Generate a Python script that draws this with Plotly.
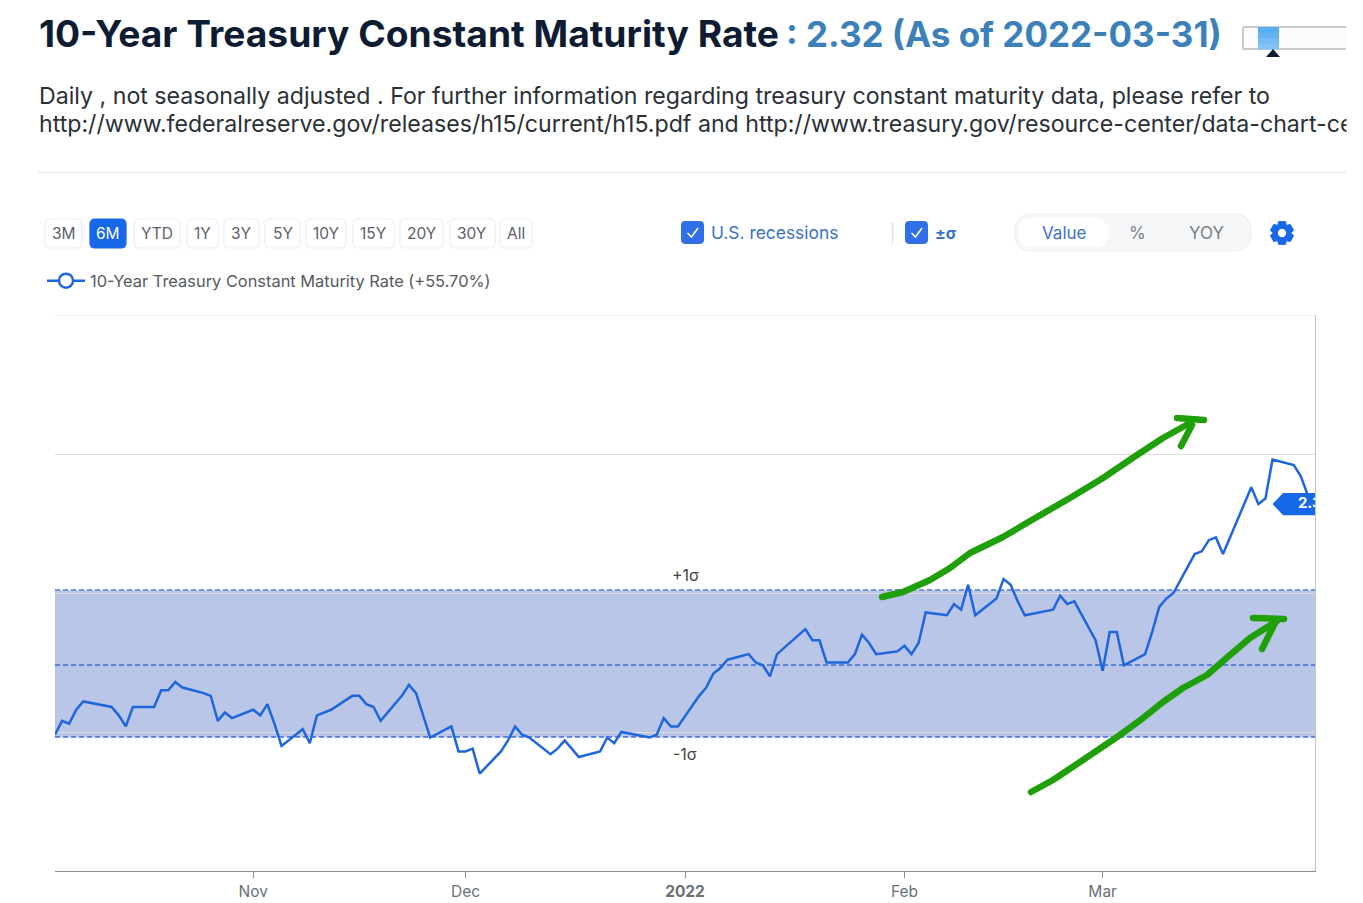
import math
import plotly.graph_objects as go

W, H = 1363, 903
dates = """2021-10-04 2021-10-05 2021-10-06 2021-10-07 2021-10-08 2021-10-12 2021-10-13 2021-10-14 2021-10-15
2021-10-18 2021-10-19 2021-10-20 2021-10-21 2021-10-22 2021-10-25 2021-10-26 2021-10-27 2021-10-28 2021-10-29
2021-11-01 2021-11-02 2021-11-03 2021-11-04 2021-11-05 2021-11-08 2021-11-09 2021-11-10 2021-11-12
2021-11-15 2021-11-16 2021-11-17 2021-11-18 2021-11-19 2021-11-22 2021-11-23 2021-11-24 2021-11-26
2021-11-29 2021-11-30 2021-12-01 2021-12-02 2021-12-03 2021-12-06 2021-12-07 2021-12-08 2021-12-09 2021-12-10
2021-12-13 2021-12-14 2021-12-15 2021-12-16 2021-12-17 2021-12-20 2021-12-21 2021-12-22 2021-12-23
2021-12-27 2021-12-28 2021-12-29 2021-12-30 2021-12-31 2022-01-03 2022-01-04 2022-01-05 2022-01-06 2022-01-07
2022-01-10 2022-01-11 2022-01-12 2022-01-13 2022-01-14 2022-01-18 2022-01-19 2022-01-20 2022-01-21
2022-01-24 2022-01-25 2022-01-26 2022-01-27 2022-01-28 2022-01-31 2022-02-01 2022-02-02 2022-02-03 2022-02-04
2022-02-07 2022-02-08 2022-02-09 2022-02-10 2022-02-11 2022-02-14 2022-02-15 2022-02-16 2022-02-17 2022-02-18
2022-02-22 2022-02-23 2022-02-24 2022-02-25 2022-02-28 2022-03-01 2022-03-02 2022-03-03 2022-03-04
2022-03-07 2022-03-08 2022-03-09 2022-03-10 2022-03-11 2022-03-14 2022-03-15 2022-03-16 2022-03-17 2022-03-18
2022-03-21 2022-03-22 2022-03-23 2022-03-24 2022-03-25 2022-03-28 2022-03-29 2022-03-30 2022-03-31""".split()
rates = [1.49, 1.54, 1.53, 1.58, 1.61, 1.59, 1.56, 1.52, 1.59,
         1.59, 1.65, 1.65, 1.68, 1.66, 1.64, 1.63, 1.54, 1.57, 1.55,
         1.58, 1.56, 1.60, 1.53, 1.45, 1.51, 1.46, 1.56, 1.58,
         1.63, 1.63, 1.60, 1.59, 1.54, 1.63, 1.67, 1.64, 1.48,
         1.52, 1.43, 1.43, 1.44, 1.35, 1.43, 1.47, 1.52, 1.49, 1.48,
         1.42, 1.44, 1.47, 1.44, 1.41, 1.43, 1.48, 1.46, 1.50,
         1.48, 1.49, 1.55, 1.52, 1.52, 1.63, 1.66, 1.71, 1.73, 1.76,
         1.78, 1.75, 1.74, 1.70, 1.78, 1.87, 1.83, 1.83, 1.75,
         1.75, 1.78, 1.85, 1.82, 1.78, 1.79, 1.81, 1.78, 1.82, 1.93,
         1.92, 1.96, 1.94, 2.03, 1.92, 1.98, 2.05, 2.03, 1.97, 1.92,
         1.94, 1.99, 1.96, 1.97, 1.83, 1.72, 1.86, 1.86, 1.74,
         1.78, 1.86, 1.95, 1.98, 2.00, 2.14, 2.15, 2.19, 2.20, 2.14,
         2.32, 2.38, 2.32, 2.34, 2.48, 2.46, 2.42, 2.35, 2.32]
plus_sigma, mean_rate, minus_sigma = 2.011, 1.741, 1.482
tick_dates = ["2021-11-01", "2021-12-01", "2022-01-01", "2022-02-01", "2022-03-01"]
tick_labels = ["Nov", "Dec", "<b>2022</b>", "Feb", "Mar"]
range_buttons = ["3M", "6M", "YTD", "1Y", "3Y", "5Y", "10Y", "15Y", "20Y", "30Y", "All"]
button_edges = [(45, 82), (90, 126), (134, 180), (187, 218), (224, 259), (265, 300),
                (306, 346), (353, 394), (400, 443), (450, 495), (500, 532)]

BLUE = "#1668e8"
LINE = "#1f66dc"
GREEN = "rgb(31,160,10)"
FONT = "Inter"
px = lambda x: x / W
py = lambda y: 1 - y / H


def path(points, close=False):
    s = "M" + " L".join(f"{px(x):.5f},{py(y):.5f}" for x, y in points)
    return s + (" Z" if close else "")


def rrect(x0, y0, x1, y1, r):
    pts = [(x0 + r, y0), (x1 - r, y0), (x1, y0 + r), (x1, y1 - r), (x1 - r, y1), (x0 + r, y1), (x0, y1 - r), (x0, y0 + r)]
    a = lambda x, y: f"{px(x):.5f},{py(y):.5f}"
    return (f"M{a(*pts[0])} L{a(*pts[1])} Q{a(x1, y0)} {a(*pts[2])} L{a(*pts[3])} Q{a(x1, y1)} {a(*pts[4])} "
            f"L{a(*pts[5])} Q{a(x0, y1)} {a(*pts[6])} L{a(*pts[7])} Q{a(x0, y0)} {a(*pts[0])} Z")


shapes, annos = [], []


def pshape(d, fill=None, color=None, width=0):
    s = dict(type="path", xref="paper", yref="paper", path=d, layer="above", line=dict(width=width, color=color or "rgba(0,0,0,0)"))
    if fill:
        s["fillcolor"] = fill
    shapes.append(s)


def label(x, y, text, size, color, anchor="left", family=FONT):
    annos.append(dict(xref="paper", yref="paper", x=px(x), y=py(y), text=text, showarrow=False, xanchor=anchor,
                      yanchor="middle", font=dict(size=size, color=color, family=family), borderpad=0))


# header
label(37.5, 34, "<b>10-Year Treasury Constant Maturity Rate</b>", 37.2, "#0d1b33")
label(785, 34, "<b>: 2.32 (As of 2022-03-31)</b>", 35, "#3b80b8")
label(37.5, 96, "Daily , not seasonally adjusted . For further information regarding treasury constant maturity data, please refer to", 23.15, "#2a2f36")
label(37.5, 124, "http://www.federalreserve.gov/releases/h15/current/h15.pdf and http://www.treasury.gov/resource-center/data-chart-ce", 23.15, "#2a2f36")
# the page photo ends at x=1346: blank cover over the tail of the clipped sentence
annos.append(dict(xref="paper", yref="paper", x=px(1346), y=py(124), text=" ", showarrow=False, xanchor="left", yanchor="middle",
                  width=17, height=34, bgcolor="#ffffff", borderpad=0))
pshape(path([(38, 172.5), (1346, 172.5)]), color="#e3e3e3", width=1.2)

# mini slider
pshape(path([(1243, 27), (1346, 27), (1346, 49), (1243, 49)], True), fill="#fbfbfb")
pshape(path([(1243, 27), (1346, 27)]), color="#c9c9c9", width=2)
pshape(path([(1243, 49), (1346, 49)]), color="#c9c9c9", width=2)
pshape(path([(1243, 27), (1243, 49)]), color="#c9c9c9", width=2)
for i, c in enumerate(["#58aef0", "#64b4f2", "#72bbf4", "#82c4f6"]):
    pshape(path([(1258, 27 + i * 5.5), (1279, 27 + i * 5.5), (1279, 33 + i * 5.5), (1258, 33 + i * 5.5)], True), fill=c)
pshape(path([(1273, 49), (1280, 57), (1266, 57)], True), fill="#0d1b33")

# range buttons
for name, (x0, x1) in zip(range_buttons, button_edges):
    active = name == "6M"
    pshape(rrect(x0, 219, x1, 248, 5), fill=BLUE if active else "#ffffff", color=BLUE if active else "#eceef0", width=1.2)
    label((x0 + x1) / 2, 233.5, name, 15.5, "#ffffff" if active else "#5b6068", "center")


# checkboxes
def checkbox(x):
    pshape(rrect(x, 221, x + 23, 244, 4.5), fill="#2f6fe8")
    pshape(path([(x + 6.5, 233), (x + 10.5, 237), (x + 17, 228)]), color="#ffffff", width=1.6)


checkbox(681)
label(709.5, 233, "U.S. recessions", 17.4, "#3a72c8")
pshape(path([(892.5, 222), (892.5, 244)]), color="#e2e2e2", width=1.5)
checkbox(905)
label(934, 233, "<b>±σ</b>", 16, "#3a72c8")

# Value / % / YOY toggle
pshape(rrect(1015, 214, 1251, 251, 18), fill="#f6f7f8", color="#eceef0", width=1.2)
pshape(rrect(1018, 218, 1108, 247, 14), fill="#ffffff")
label(1064, 233, "Value", 17, "#3a72c8", "center")
label(1137, 233, "%", 17, "#7a7f86", "center")
label(1206, 233, "YOY", 17, "#7a7f86", "center")

# gear icon: six teeth, round hole
gx, gy = 1282, 233
gear = []
for k in range(6):
    c = math.radians(-90 + 60 * k)
    for off, r in ((-17, 12), (17, 12), (30, 8.8)):
        gear.append((gx + r * math.cos(c + math.radians(off)), gy + r * math.sin(c + math.radians(off))))
pshape(path(gear, True), fill=BLUE, color=BLUE, width=0.8)
pshape(path([(gx + 4.2 * math.cos(math.radians(a)), gy + 4.2 * math.sin(math.radians(a))) for a in range(0, 360, 30)], True), fill="#ffffff")

# +/- sigma band
shapes.append(dict(type="rect", xref="x", yref="y", x0=dates[0], x1=dates[-1], y0=minus_sigma, y1=plus_sigma,
                   fillcolor="rgba(140,160,216,0.6)", line=dict(width=0), layer="below"))
for level in (plus_sigma, mean_rate, minus_sigma):
    shapes.append(dict(type="line", xref="x", yref="y", x0=dates[0], x1=dates[-1], y0=level, y1=level,
                       line=dict(color="#3d6cd2", width=1.3, dash="5px,3px"), layer="below"))
# top gridline at the range edge
shapes.append(dict(type="line", xref="x", yref="y", x0=dates[0], x1=dates[-1], y0=3, y1=3,
                   line=dict(color="#dddddd", width=1), layer="below"))
label(685, 575, "+1σ", 16, "#444444", "center")
label(685, 754, "-1σ", 16, "#444444", "center")

# hand-drawn arrows
for stroke in ([(882, 597), (903, 592), (930, 580), (950, 568), (970, 553), (1003, 537), (1037, 517), (1070, 498),
                (1103, 478), (1137, 455), (1163, 438), (1190, 423)],
               [(1177, 418), (1204, 420)], [(1181, 446), (1192, 425)],
               [(1031, 792), (1053, 780), (1083, 760), (1117, 737), (1143, 718), (1163, 702), (1183, 688), (1207, 675),
                (1230, 655), (1250, 638), (1277, 621)],
               [(1253, 618), (1284, 619)], [(1262, 649), (1275, 623)]):
    pshape(path(stroke), color=GREEN, width=6.5)

fig = go.Figure()
fig.add_trace(go.Scatter(x=dates, y=rates, mode="lines", line=dict(color=LINE, width=2.5), showlegend=False))
# legend-only entry with the open circle
fig.add_trace(go.Scatter(x=[None], y=[None], mode="lines+markers", name="10-Year Treasury Constant Maturity Rate (+55.70%)",
                         line=dict(color=LINE, width=2.5),
                         marker=dict(symbol="circle", size=14, color="#ffffff", line=dict(color=LINE, width=2.5))))
# last-value tag, clipped by the plot edge as in the page
fig.add_trace(go.Scatter(x=["2022-03-25 00:00", "2022-03-26 12:00", "2022-04-05", "2022-04-05", "2022-03-26 12:00", "2022-03-25 00:00"],
                         y=[rates[-1], 2.36, 2.36, 2.28, 2.28, rates[-1]], mode="lines", fill="toself", fillcolor=BLUE,
                         line=dict(color=BLUE, width=0), showlegend=False, hoverinfo="skip"))
fig.add_trace(go.Scatter(x=["2022-03-28 14:00"], y=[rates[-1]], mode="text", text=["<b>2.32</b>"], textposition="middle right",
                         textfont=dict(color="#ffffff", size=15, family=FONT), showlegend=False, cliponaxis=True, hoverinfo="skip"))

fig.update_layout(
    width=W, height=H, margin=dict(l=0, r=0, t=0, b=0), paper_bgcolor="#ffffff", plot_bgcolor="#ffffff",
    font=dict(family=FONT), shapes=shapes, annotations=annos,
    legend=dict(x=px(42), y=py(281), xanchor="left", yanchor="middle", bgcolor="rgba(0,0,0,0)", itemwidth=38,
                font=dict(size=16.4, color="#555a60", family=FONT), traceorder="normal"),
    xaxis=dict(domain=[px(55), px(1315)], range=[dates[0], dates[-1]], type="date", tickmode="array", tickvals=tick_dates, ticktext=tick_labels,
               showgrid=False, zeroline=False, showline=True, linecolor="#8c8c8c", linewidth=1.2, ticks="outside", ticklen=6, tickcolor="#8c8c8c",
               tickfont=dict(size=15.5, color="#6a6f76", family=FONT), anchor="y"),
    yaxis=dict(domain=[py(871), py(315)], range=[1, 3], side="right", dtick=0.5, showticklabels=False, ticks="", zeroline=False,
               gridcolor="#dddddd", gridwidth=1, showline=True, linecolor="#c4c4c4", linewidth=1.2, anchor="x"),
)

post = ("document.body.style.margin='0';document.body.style.overflow='hidden';"
        "document.querySelectorAll('.shapelayer path').forEach(function(p){"
        "if(p.style.stroke.indexOf('31, 160')>=0){p.style.strokeLinecap='round';p.style.strokeLinejoin='round';}});")
fig.write_html("out.html", config=dict(displayModeBar=False), post_script=post)
